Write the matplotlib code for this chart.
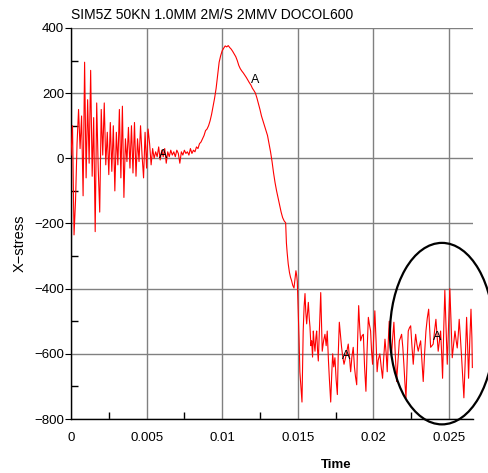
import numpy as np
import matplotlib
matplotlib.use("Agg")
import matplotlib.pyplot as plt
from matplotlib.patches import Ellipse

plt.rcParams["font.family"] = ["Liberation Sans", "DejaVu Sans"]

TITLE = "SIM5Z 50KN 1.0MM 2M/S 2MMV DOCOL600"

# early ringing + quiet phase (s, stress)
time_early = [0.0000, 0.0001, 0.0002, 0.0003, 0.0004, 0.0005, 0.0006, 0.0007, 0.0008, 0.0009,
              0.0010, 0.0011, 0.0012, 0.0013, 0.0014, 0.0015, 0.0016, 0.0017, 0.0018, 0.0019,
              0.0020, 0.0021, 0.0022, 0.0023, 0.0024, 0.0025, 0.0026, 0.0027, 0.0028, 0.0029,
              0.0030, 0.0031, 0.0032, 0.0033, 0.0034, 0.0035, 0.0036, 0.0037, 0.0038, 0.0039,
              0.0040, 0.0041, 0.0042, 0.0043, 0.0044, 0.0045, 0.0046, 0.0047, 0.0048, 0.0049,
              0.0050, 0.0051, 0.0052, 0.0053, 0.0054, 0.0055, 0.0056, 0.0057, 0.0058, 0.0059,
              0.0060, 0.0061, 0.0062, 0.0063, 0.0064, 0.0065, 0.0066, 0.0067, 0.0068, 0.0069,
              0.0070, 0.0071, 0.0072, 0.0073, 0.0074, 0.0075, 0.0076, 0.0077, 0.0078, 0.0079]
stress_early = [10, 100, -235, -130, 45, 150, 30, 130, -115, 295,
                -60, 180, -15, 270, -55, 125, -225, 170, -30, -165,
                150, 10, 170, -20, 80, -50, 110, -40, 100, -100,
                80, -20, 150, -60, 160, -120, 60, -10, 95, -30,
                100, -45, 110, -55, 60, -10, 100, 10, -60, 80,
                -30, 90, 45, -20, 30, 0, 20, 5, 35, -5,
                25, 5, 30, -15, 20, 5, 25, 10, 20, 5,
                25, 15, -15, 20, 10, 25, 15, 20, 10, 30]

# hump and unloading
time_peak = [0.0080, 0.0081, 0.0082, 0.0083, 0.0084, 0.0085, 0.0086, 0.0087, 0.0088, 0.0089,
             0.0090, 0.0091, 0.0092, 0.0093, 0.0094, 0.0095, 0.0096, 0.0097, 0.0098, 0.0099,
             0.0100, 0.0101, 0.0102, 0.0103, 0.0104, 0.0105, 0.0106, 0.0107, 0.0108, 0.0109,
             0.0110, 0.0111, 0.0112, 0.0113, 0.0114, 0.0115, 0.0116, 0.0117, 0.0118, 0.0119,
             0.0120, 0.0121, 0.0122, 0.0123, 0.0124, 0.0125, 0.0126, 0.0127, 0.0128, 0.0129,
             0.0130, 0.0131, 0.0132, 0.0133, 0.0134, 0.0135, 0.0136, 0.0137, 0.0138, 0.0139,
             0.0140, 0.0141]
stress_peak = [15, 25, 20, 35, 30, 45, 50, 60, 70, 85,
               90, 100, 115, 135, 160, 185, 215, 255, 295, 315,
               330, 338, 345, 342, 346, 340, 335, 328, 320, 312,
               300, 285, 275, 268, 262, 255, 248, 240, 232, 225,
               215, 208, 200, 185, 168, 150, 130, 115, 100, 85,
               70, 45, 20, -10, -45, -75, -100, -122, -145, -165,
               -182, -192]

# drop and noisy plateau
time_tail = [0.01420, 0.01425, 0.01430, 0.01437, 0.01445, 0.01452, 0.01459, 0.01467, 0.01475, 0.01482,
             0.01488, 0.01493, 0.01497, 0.01503, 0.01509, 0.01514, 0.01521, 0.01528, 0.01536, 0.01542,
             0.01548, 0.01553, 0.01559, 0.01565, 0.01570, 0.01576, 0.01581, 0.01587, 0.01592, 0.01598,
             0.01603, 0.01608, 0.01614, 0.01620, 0.01625, 0.01631, 0.01636, 0.01644, 0.01652, 0.01657,
             0.01662, 0.01671, 0.01680, 0.01688, 0.01695, 0.01703, 0.01709, 0.01718, 0.01725, 0.01731,
             0.01738, 0.01746, 0.01754, 0.01762, 0.01768, 0.01775, 0.01782, 0.01790, 0.01798, 0.01806,
             0.01812, 0.01819, 0.01826, 0.01834, 0.01842, 0.01850, 0.01858, 0.01867, 0.01875, 0.01882,
             0.01890, 0.01896, 0.01903, 0.01910, 0.01916, 0.01925, 0.01934, 0.01942, 0.01951, 0.01958,
             0.01967, 0.01974, 0.01982, 0.01988, 0.01995, 0.02003, 0.02010, 0.02018, 0.02025, 0.02032,
             0.02043, 0.02052, 0.02061, 0.02069, 0.02077, 0.02085, 0.02092, 0.02099, 0.02105, 0.02112,
             0.02121, 0.02128, 0.02136, 0.02145, 0.02154, 0.02163, 0.02172, 0.02180, 0.02187, 0.02195,
             0.02202, 0.02209, 0.02216, 0.02224, 0.02231, 0.02239, 0.02247, 0.02256, 0.02264, 0.02272,
             0.02280, 0.02288, 0.02297, 0.02305, 0.02313, 0.02321, 0.02330, 0.02339, 0.02348, 0.02357,
             0.02366, 0.02372, 0.02379, 0.02388, 0.02396, 0.02405, 0.02414, 0.02421, 0.02429, 0.02437,
             0.02445, 0.02452, 0.02458, 0.02466, 0.02473, 0.02481, 0.02489, 0.02497, 0.02506, 0.02514,
             0.02522, 0.02531, 0.02540, 0.02548, 0.02555, 0.02562, 0.02568, 0.02576, 0.02584, 0.02592,
             0.02599, 0.02608, 0.02617, 0.02624, 0.02630, 0.02638, 0.02646, 0.02652, 0.02655]
stress_tail = [-198, -260, -290, -324, -350, -365, -375, -390, -398, -370,
               -345, -360, -378, -470, -560, -655, -700, -748, -530, -455,
               -415, -470, -508, -470, -442, -490, -518, -575, -560, -610,
               -530, -565, -592, -550, -530, -590, -622, -520, -412, -500,
               -592, -560, -540, -575, -530, -620, -675, -748, -660, -600,
               -640, -612, -680, -725, -600, -503, -540, -580, -610, -632,
               -620, -606, -590, -570, -610, -655, -610, -580, -640, -670,
               -695, -560, -452, -520, -560, -545, -540, -640, -715, -600,
               -488, -510, -530, -590, -632, -540, -468, -560, -655, -620,
               -600, -640, -675, -610, -555, -600, -655, -560, -500, -560,
               -600, -550, -503, -600, -685, -620, -560, -550, -540, -580,
               -632, -690, -735, -620, -530, -520, -514, -580, -632, -580,
               -540, -570, -592, -575, -560, -620, -685, -600, -530, -490,
               -463, -520, -580, -575, -570, -530, -494, -540, -592, -560,
               -530, -600, -675, -520, -405, -520, -632, -520, -400, -500,
               -612, -570, -530, -560, -582, -540, -494, -550, -612, -680,
               -735, -620, -488, -580, -675, -560, -463, -550, -642]

# "A" curve markers
marker_t = [0.0061, 0.0122, 0.0182, 0.0242]
marker_s = [10, 240, -606, -548]

x_ticks = [0, 0.005, 0.01, 0.015, 0.02, 0.025]
x_labels = ["0", "0.005", "0.01", "0.015", "0.02", "0.025"]
y_ticks = [-800, -600, -400, -200, 0, 200, 400]

t = np.array(time_early + time_peak + time_tail)
s = np.array(stress_early + stress_peak + stress_tail)

fig = plt.figure(figsize=(4.88, 4.73), dpi=100)
ax = fig.add_axes([71 / 488, 1 - 419 / 473, 401.5 / 488, 391 / 473])

ax.plot(t, s, color="red", lw=0.8, zorder=3)
for mt, ms in zip(marker_t, marker_s):
    ax.text(mt, ms, "A", ha="center", va="center", fontsize=9, color="black", zorder=4)

ax.set_xlim(0, 0.02656)
ax.set_ylim(-800, 400)
ax.set_xticks(x_ticks)
ax.set_xticklabels(x_labels)
ax.set_yticks(y_ticks)
ax.set_yticklabels([str(v).replace("-", "\u2212") for v in y_ticks])
ax.set_xticks([0.0025, 0.0075, 0.0125, 0.0175, 0.0225], minor=True)
ax.set_yticks([-700, -500, -300, -100, 100, 300], minor=True)

ax.grid(True, which="major", color="#808080", lw=1.0)
ax.tick_params(axis="x", which="major", length=0, pad=9, labelsize=9.5)
ax.tick_params(axis="y", which="major", direction="out", length=4, pad=1, labelsize=9.5)
ax.tick_params(which="minor", direction="in", length=5, width=1, color="black")
ax.spines["top"].set_visible(False)
ax.spines["right"].set_visible(False)
ax.spines["left"].set_linewidth(1.0)
ax.spines["bottom"].set_linewidth(1.0)

ellipse = Ellipse((0.02454, -538), 0.00688, 557, fill=False, edgecolor="black",
                  lw=1.6, clip_on=False, zorder=5)
ax.add_patch(ellipse)

fig.text(71 / 488, 1 - 15 / 473, TITLE, ha="left", va="center", fontsize=10)
fig.text(336 / 488, 1 - 465 / 473, "Time", ha="center", va="center", fontsize=9.5, fontweight="bold")
fig.text(20 / 488, 1 - 243 / 473, "X\u2212stress", ha="center", va="center", rotation=90, fontsize=10.5)

fig.savefig("out.png", dpi=100)
